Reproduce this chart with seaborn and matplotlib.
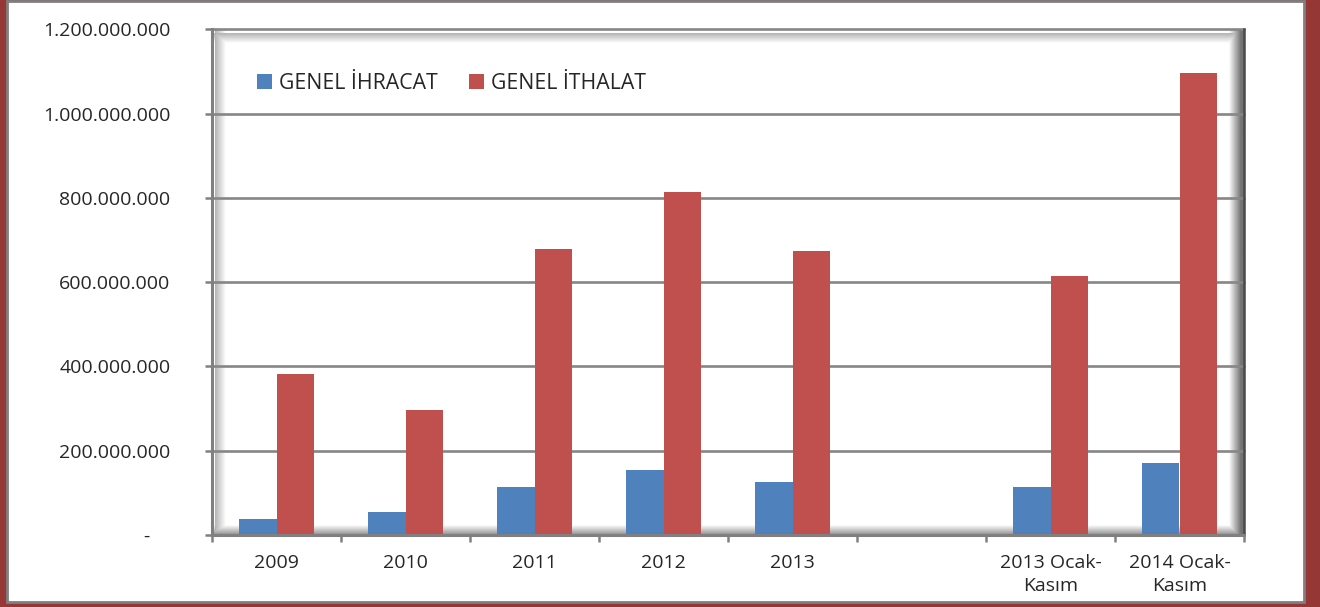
import numpy as np
import pandas as pd
import seaborn as sns
import matplotlib.pyplot as plt
from matplotlib.ticker import FuncFormatter, FixedLocator
from matplotlib.patches import Rectangle

# data
kategoriler = ["2009", "2010", "2011", "2012", "2013", " ", "2013 Ocak-\nKasım", "2014 Ocak-\nKasım"]
ihracat = [37e6, 54e6, 113e6, 154e6, 125e6, np.nan, 113e6, 171e6]
ithalat = [382e6, 297e6, 678e6, 813e6, 674e6, np.nan, 615e6, 1096e6]
seriler = ["GENEL İHRACAT", "GENEL İTHALAT"]
y_ticks = [0, 200e6, 400e6, 600e6, 800e6, 1000e6, 1200e6]

df = pd.DataFrame({
    "kategori": kategoriler * 2,
    "deger": ihracat + ithalat,
    "seri": [seriler[0]] * len(kategoriler) + [seriler[1]] * len(kategoriler),
})

sns.set_style("white")
plt.rcParams["font.family"] = ["Open Sans", "DejaVu Sans"]
plt.rcParams["font.size"] = 14

W, H = 1320, 607
fig = plt.figure(figsize=(W / 100, H / 100), dpi=100)

# background: red frame, grey border, inner shadow of plot area
bg = fig.add_axes([0, 0, 1, 1], zorder=0)
bg.set_xlim(0, W)
bg.set_ylim(H, 0)
bg.axis("off")
bg.add_patch(Rectangle((0, 0), W, H, facecolor="#953735", edgecolor="none", zorder=0))
bg.add_patch(Rectangle((7, 1), 1297, 601, facecolor="white", edgecolor="#7f7f7f",
                       linewidth=2, zorder=1))

px0, px1, py0, py1 = 212, 1244, 29.5, 534.8
xs = np.arange(px0, px1) + 0.5
ys = np.arange(int(py0), int(py1)) + 0.5
X, Y = np.meshgrid(xs, ys)
left = np.where(X < 215, 1.0, 0.70 + 0.30 * np.clip((X - 215) / 11, 0, 1))
top = np.where(Y < 33, 1.0, 0.70 + 0.30 * np.clip((Y - 33) / 10, 0, 1))
right = 0.45 + 0.55 * np.clip((1241 - X) / 12, 0, 1)
bottom = 0.60 + 0.40 * np.clip((533 - Y) / 9, 0, 1)
shade = np.minimum.reduce([left, top, right, bottom])
bg.imshow(shade, cmap="gray", vmin=0, vmax=1, extent=(px0, px1, py1, py0),
          aspect="auto", interpolation="bilinear", zorder=2)
bg.set_xlim(0, W)
bg.set_ylim(H, 0)

ax = fig.add_axes([px0 / W, 1 - py1 / H, (px1 - px0) / W, (py1 - py0) / H], zorder=1)
ax.set_facecolor("none")

sns.barplot(data=df, x="kategori", y="deger", hue="seri", order=kategoriler,
            hue_order=seriler, palette=["#4f81bd", "#c0504d"], saturation=1,
            width=0.575, gap=0, errorbar=None, linewidth=0, ax=ax)

ax.set_ylim(0, 1.2e9)
ax.set_xlim(-0.5, len(kategoriler) - 0.5)
ax.set_yticks(y_ticks)
ax.yaxis.set_major_formatter(FuncFormatter(
    lambda v, p: "-    " if v == 0 else f"{int(v):,}".replace(",", ".")))
ax.set_xlabel("")
ax.set_ylabel("")

ax.set_axisbelow(True)
ax.yaxis.grid(True, color="#868686", linewidth=1.9)
ax.xaxis.grid(False)
for g in ax.get_ygridlines():
    g.set_clip_on(False)

for s in ["left", "bottom"]:
    ax.spines[s].set_color("#808080")
    ax.spines[s].set_linewidth(2.2)
ax.spines["top"].set_visible(False)
ax.spines["right"].set_color("#4a4a4a")
ax.spines["right"].set_linewidth(1.8)

ax.tick_params(axis="y", which="major", direction="out", length=5, width=1.8,
               color="#808080", pad=25, left=True, labelsize=14)
ax.tick_params(axis="x", which="major", length=0, pad=14, labelsize=14)
for t in ax.get_xticklabels():
    t.set_linespacing(1.35)
ax.xaxis.set_minor_locator(FixedLocator(np.arange(-0.5, len(kategoriler), 1)))
ax.tick_params(axis="x", which="minor", direction="out", length=5, width=1.8,
               color="#808080", bottom=True)

handles, labels = ax.get_legend_handles_labels()
ax.legend(handles, labels, loc="center left", bbox_to_anchor=(0.044, 0.893),
          ncol=2, frameon=False, borderpad=0, borderaxespad=0,
          handlelength=0.7, handleheight=0.7, handletextpad=0.3,
          columnspacing=1.5, fontsize=15.3)

fig.savefig("out.png", dpi=100)
